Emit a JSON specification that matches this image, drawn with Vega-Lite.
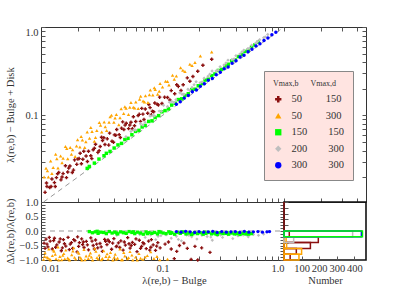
{
"$schema": "https://vega.github.io/schema/vega-lite/v6.json",
"padding": {"left": 5, "top": 25, "right": 0, "bottom": 0},
"spacing": 0,
"bounds": "flush",
"background": "white",
"config": {
  "font": "Liberation Serif",
  "view": {"stroke": "#333", "strokeWidth": 1},
  "axis": {"labelFont": "Liberation Serif", "labelFontSize": 10.5, "labelColor": "#333", "titleFont": "Liberation Serif", "titleFontSize": 10.5, "titleFontWeight": "normal", "titleColor": "#333", "tickColor": "#555", "grid": false, "domain": false, "tickSize": -4, "labelOverlap": false, "labelPadding": 7}
},
"datasets": {
  "diag": [{"x": 0.0105, "y": 0.0105}, {"x": 1, "y": 1}],
  "zline": [{"x": 0.01, "r": 0}, {"x": 1, "r": 0}],
  "main": [
{"s":"a","x":0.0108,"y":0.0135},{"s":"a","x":0.0112,"y":0.0157},{"s":"a","x":0.0118,"y":0.0153},{"s":"a","x":0.0123,"y":0.0191},{"s":"a","x":0.0129,"y":0.0174},{"s":"a","x":0.0131,"y":0.0157},{"s":"a","x":0.0134,"y":0.0198},{"s":"a","x":0.014,"y":0.0227},{"s":"a","x":0.0146,"y":0.0187},{"s":"a","x":0.0152,"y":0.022},{"s":"a","x":0.0159,"y":0.027},{"s":"a","x":0.0162,"y":0.0198},{"s":"a","x":0.0166,"y":0.0229},{"s":"a","x":0.0173,"y":0.0268},{"s":"a","x":0.0181,"y":0.0226},{"s":"a","x":0.0189,"y":0.0314},{"s":"a","x":0.0197,"y":0.028},{"s":"a","x":0.0206,"y":0.0325},{"s":"a","x":0.021,"y":0.0374},{"s":"a","x":0.0215,"y":0.0284},{"s":"a","x":0.0225,"y":0.0394},{"s":"a","x":0.0235,"y":0.0348},{"s":"a","x":0.0246,"y":0.0394},{"s":"a","x":0.0257,"y":0.035},{"s":"a","x":0.0262,"y":0.0325},{"s":"a","x":0.0269,"y":0.0409},{"s":"a","x":0.0281,"y":0.0472},{"s":"a","x":0.0294,"y":0.0382},{"s":"a","x":0.0307,"y":0.0445},{"s":"a","x":0.0315,"y":0.0567},{"s":"a","x":0.0321,"y":0.052},{"s":"a","x":0.0336,"y":0.047},{"s":"a","x":0.0351,"y":0.0544},{"s":"a","x":0.0367,"y":0.0631},{"s":"a","x":0.0384,"y":0.0511},{"s":"a","x":0.0395,"y":0.0498},{"s":"a","x":0.0402,"y":0.0603},{"s":"a","x":0.042,"y":0.0693},{"s":"a","x":0.044,"y":0.0607},{"s":"a","x":0.046,"y":0.0718},{"s":"a","x":0.047,"y":0.0846},{"s":"a","x":0.0481,"y":0.0693},{"s":"a","x":0.0503,"y":0.0815},{"s":"a","x":0.0526,"y":0.071},{"s":"a","x":0.055,"y":0.0836},{"s":"a","x":0.0565,"y":0.0706},{"s":"a","x":0.0576,"y":0.0968},{"s":"a","x":0.0602,"y":0.0855},{"s":"a","x":0.063,"y":0.0995},{"s":"a","x":0.0659,"y":0.0857},{"s":"a","x":0.0675,"y":0.1202},{"s":"a","x":0.069,"y":0.1035},{"s":"a","x":0.0722,"y":0.1184},{"s":"a","x":0.0755,"y":0.1057},{"s":"a","x":0.079,"y":0.1225},{"s":"a","x":0.081,"y":0.1021},{"s":"a","x":0.0826,"y":0.1115},{"s":"a","x":0.0864,"y":0.1382},{"s":"a","x":0.0905,"y":0.1339},{"s":"a","x":0.0947,"y":0.161},{"s":"a","x":0.099,"y":0.1366},{"s":"a","x":0.104,"y":0.161},{"s":"a","x":0.11,"y":0.1595},{"s":"a","x":0.118,"y":0.191},{"s":"a","x":0.126,"y":0.176},{"s":"a","x":0.135,"y":0.213},{"s":"a","x":0.148,"y":0.222},{"s":"a","x":0.16,"y":0.266},{"s":"a","x":0.178,"y":0.276},{"s":"a","x":0.195,"y":0.316},{"s":"a","x":0.215,"y":0.37},{"s":"a","x":0.254,"y":0.432},
{"s":"a","x":0.0111,"y":0.0172},{"s":"a","x":0.0121,"y":0.0157},{"s":"a","x":0.0137,"y":0.0219},{"s":"a","x":0.0149,"y":0.0201},{"s":"a","x":0.0169,"y":0.0254},{"s":"a","x":0.0185,"y":0.0241},{"s":"a","x":0.0201,"y":0.0322},{"s":"a","x":0.0221,"y":0.032},{"s":"a","x":0.0241,"y":0.0301},{"s":"a","x":0.0275,"y":0.0426},{"s":"a","x":0.0301,"y":0.04},{"s":"a","x":0.0329,"y":0.0559},{"s":"a","x":0.0361,"y":0.0462},{"s":"a","x":0.0412,"y":0.0597},{"s":"a","x":0.045,"y":0.0563},{"s":"a","x":0.0492,"y":0.0777},{"s":"a","x":0.0538,"y":0.078},{"s":"a","x":0.0588,"y":0.0764},{"s":"a","x":0.0643,"y":0.1029},{"s":"a","x":0.0704,"y":0.0901},{"s":"a","x":0.0772,"y":0.1328},{"s":"a","x":0.0846,"y":0.11},{"s":"a","x":0.0926,"y":0.1315},{"s":"a","x":0.115,"y":0.1495},{"s":"a","x":0.131,"y":0.2227},{"s":"a","x":0.142,"y":0.1917},{"s":"a","x":0.168,"y":0.2436},
{"s":"b","x":0.0106,"y":0.0201},{"s":"b","x":0.011,"y":0.0253},{"s":"b","x":0.0115,"y":0.0201},{"s":"b","x":0.012,"y":0.0306},{"s":"b","x":0.0126,"y":0.0258},{"s":"b","x":0.0132,"y":0.0363},{"s":"b","x":0.0138,"y":0.0255},{"s":"b","x":0.0145,"y":0.0348},{"s":"b","x":0.0152,"y":0.0327},{"s":"b","x":0.0159,"y":0.0445},{"s":"b","x":0.0166,"y":0.0324},{"s":"b","x":0.0174,"y":0.0435},{"s":"b","x":0.0182,"y":0.041},{"s":"b","x":0.0191,"y":0.0344},{"s":"b","x":0.02,"y":0.053},{"s":"b","x":0.0209,"y":0.0439},{"s":"b","x":0.0219,"y":0.0526},{"s":"b","x":0.0229,"y":0.0435},{"s":"b","x":0.024,"y":0.0648},{"s":"b","x":0.0251,"y":0.0552},{"s":"b","x":0.0263,"y":0.0658},{"s":"b","x":0.0275,"y":0.0509},{"s":"b","x":0.0288,"y":0.0677},{"s":"b","x":0.0302,"y":0.0831},{"s":"b","x":0.0316,"y":0.0648},{"s":"b","x":0.0331,"y":0.0844},{"s":"b","x":0.0347,"y":0.0677},{"s":"b","x":0.0363,"y":0.0835},{"s":"b","x":0.038,"y":0.1007},{"s":"b","x":0.0398,"y":0.0836},{"s":"b","x":0.0417,"y":0.1022},{"s":"b","x":0.0437,"y":0.0787},{"s":"b","x":0.0457,"y":0.1188},{"s":"b","x":0.0479,"y":0.1054},{"s":"b","x":0.0501,"y":0.1202},{"s":"b","x":0.0525,"y":0.1024},{"s":"b","x":0.055,"y":0.1403},{"s":"b","x":0.0575,"y":0.1236},{"s":"b","x":0.0603,"y":0.1417},{"s":"b","x":0.0631,"y":0.1199},{"s":"b","x":0.0661,"y":0.1653},{"s":"b","x":0.0692,"y":0.1453},{"s":"b","x":0.0724,"y":0.1665},{"s":"b","x":0.0759,"y":0.1404},{"s":"b","x":0.0794,"y":0.1945},{"s":"b","x":0.0832,"y":0.1706},{"s":"b","x":0.0871,"y":0.196},{"s":"b","x":0.0912,"y":0.1733},{"s":"b","x":0.0955,"y":0.2292},{"s":"b","x":0.1,"y":0.21},{"s":"b","x":0.106,"y":0.2438},{"s":"b","x":0.113,"y":0.2204},{"s":"b","x":0.121,"y":0.2844},{"s":"b","x":0.13,"y":0.2795},{"s":"b","x":0.141,"y":0.3455},{"s":"b","x":0.153,"y":0.3137},{"s":"b","x":0.168,"y":0.378},{"s":"b","x":0.185,"y":0.398},{"s":"b","x":0.205,"y":0.4715},{"s":"b","x":0.254,"y":0.5207},
{"s":"b","x":0.0113,"y":0.0237},{"s":"b","x":0.0123,"y":0.0221},{"s":"b","x":0.0135,"y":0.0324},{"s":"b","x":0.0149,"y":0.0291},{"s":"b","x":0.0163,"y":0.0424},{"s":"b","x":0.0178,"y":0.0365},{"s":"b","x":0.0196,"y":0.0451},{"s":"b","x":0.0214,"y":0.0578},{"s":"b","x":0.0234,"y":0.0503},{"s":"b","x":0.0257,"y":0.0732},{"s":"b","x":0.0281,"y":0.0562},{"s":"b","x":0.0309,"y":0.0773},{"s":"b","x":0.0338,"y":0.0744},{"s":"b","x":0.0371,"y":0.0965},{"s":"b","x":0.0407,"y":0.0936},{"s":"b","x":0.0447,"y":0.0939},{"s":"b","x":0.049,"y":0.125},{"s":"b","x":0.0538,"y":0.1237},{"s":"b","x":0.059,"y":0.121},{"s":"b","x":0.0648,"y":0.1523},{"s":"b","x":0.0711,"y":0.1422},{"s":"b","x":0.078,"y":0.1716},{"s":"b","x":0.0856,"y":0.2054},{"s":"b","x":0.094,"y":0.188},{"s":"b","x":0.11,"y":0.242},{"s":"b","x":0.125,"y":0.2563},{"s":"b","x":0.147,"y":0.3234},{"s":"b","x":0.175,"y":0.3675},
{"s":"c","x":0.024,"y":0.0252},{"s":"c","x":0.025,"y":0.0265},{"s":"c","x":0.0275,"y":0.0289},{"s":"c","x":0.03,"y":0.0321},{"s":"c","x":0.033,"y":0.035},{"s":"c","x":0.0345,"y":0.0373},{"s":"c","x":0.037,"y":0.0392},{"s":"c","x":0.04,"y":0.0428},{"s":"c","x":0.043,"y":0.0464},{"s":"c","x":0.046,"y":0.0483},{"s":"c","x":0.049,"y":0.0534},{"s":"c","x":0.052,"y":0.0551},{"s":"c","x":0.056,"y":0.0605},{"s":"c","x":0.06,"y":0.066},{"s":"c","x":0.064,"y":0.0678},{"s":"c","x":0.068,"y":0.0741},{"s":"c","x":0.072,"y":0.077},{"s":"c","x":0.077,"y":0.0855},{"s":"c","x":0.082,"y":0.0869},{"s":"c","x":0.087,"y":0.0948},{"s":"c","x":0.093,"y":0.0995},{"s":"c","x":0.099,"y":0.1099},{"s":"c","x":0.105,"y":0.1134},{"s":"c","x":0.112,"y":0.1187},{"s":"c","x":0.119,"y":0.1309},{"s":"c","x":0.127,"y":0.1372},{"s":"c","x":0.135,"y":0.1512},{"s":"c","x":0.144,"y":0.1541},{"s":"c","x":0.153,"y":0.1683},{"s":"c","x":0.163,"y":0.176},{"s":"c","x":0.174,"y":0.1949},{"s":"c","x":0.185,"y":0.198},{"s":"c","x":0.197,"y":0.2167},{"s":"c","x":0.21,"y":0.2289},{"s":"c","x":0.224,"y":0.2509},{"s":"c","x":0.238,"y":0.257},{"s":"c","x":0.254,"y":0.2819},{"s":"c","x":0.27,"y":0.2943},{"s":"c","x":0.288,"y":0.3226},{"s":"c","x":0.307,"y":0.3316},{"s":"c","x":0.327,"y":0.363},{"s":"c","x":0.348,"y":0.3793},{"s":"c","x":0.371,"y":0.4155},{"s":"c","x":0.395,"y":0.4266},{"s":"c","x":0.421,"y":0.4631},{"s":"c","x":0.448,"y":0.4883},{"s":"c","x":0.477,"y":0.5295},{"s":"c","x":0.508,"y":0.5486},{"s":"c","x":0.541,"y":0.5951},{"s":"c","x":0.576,"y":0.6278},{"s":"c","x":0.615,"y":0.6765},
{"s":"d","x":0.05,"y":0.0575},{"s":"d","x":0.055,"y":0.066},{"s":"d","x":0.058,"y":0.0684},{"s":"d","x":0.06,"y":0.0684},{"s":"d","x":0.066,"y":0.0805},{"s":"d","x":0.069,"y":0.078},{"s":"d","x":0.072,"y":0.0835},{"s":"d","x":0.079,"y":0.0988},{"s":"d","x":0.083,"y":0.1004},{"s":"d","x":0.086,"y":0.0989},{"s":"d","x":0.094,"y":0.1119},{"s":"d","x":0.098,"y":0.1117},{"s":"d","x":0.102,"y":0.1306},{"s":"d","x":0.11,"y":0.1265},{"s":"d","x":0.114,"y":0.1414},{"s":"d","x":0.119,"y":0.144},{"s":"d","x":0.124,"y":0.1401},{"s":"d","x":0.129,"y":0.1509},{"s":"d","x":0.139,"y":0.1807},{"s":"d","x":0.145,"y":0.174},{"s":"d","x":0.15,"y":0.174},{"s":"d","x":0.162,"y":0.1976},{"s":"d","x":0.168,"y":0.1915},{"s":"d","x":0.175,"y":0.2065},{"s":"d","x":0.182,"y":0.222},{"s":"d","x":0.189,"y":0.24},{"s":"d","x":0.204,"y":0.2346},{"s":"d","x":0.212,"y":0.2396},{"s":"d","x":0.22,"y":0.264},{"s":"d","x":0.237,"y":0.2773},{"s":"d","x":0.245,"y":0.2916},{"s":"d","x":0.256,"y":0.3174},{"s":"d","x":0.276,"y":0.3174},{"s":"d","x":0.287,"y":0.3243},{"s":"d","x":0.298,"y":0.3546},{"s":"d","x":0.321,"y":0.3724},{"s":"d","x":0.333,"y":0.3929},{"s":"d","x":0.346,"y":0.4221},{"s":"d","x":0.373,"y":0.429},{"s":"d","x":0.388,"y":0.4346},{"s":"d","x":0.402,"y":0.4744},{"s":"d","x":0.433,"y":0.4936},{"s":"d","x":0.45,"y":0.522},{"s":"d","x":0.467,"y":0.5464},{"s":"d","x":0.503,"y":0.5684},{"s":"d","x":0.52,"y":0.5772},{"s":"d","x":0.542,"y":0.6233},{"s":"d","x":0.584,"y":0.6541},{"s":"d","x":0.605,"y":0.6837},{"s":"d","x":0.63,"y":0.7182},{"s":"d","x":0.68,"y":0.7548},{"s":"d","x":0.7,"y":0.77},{"s":"d","x":0.735,"y":0.8232},
{"s":"e","x":0.13,"y":0.1339},{"s":"e","x":0.14,"y":0.1428},{"s":"e","x":0.151,"y":0.157},{"s":"e","x":0.163,"y":0.1679},{"s":"e","x":0.176,"y":0.1848},{"s":"e","x":0.19,"y":0.1938},{"s":"e","x":0.205,"y":0.2132},{"s":"e","x":0.221,"y":0.2276},{"s":"e","x":0.238,"y":0.2499},{"s":"e","x":0.257,"y":0.2621},{"s":"e","x":0.277,"y":0.2881},{"s":"e","x":0.299,"y":0.308},{"s":"e","x":0.322,"y":0.3381},{"s":"e","x":0.347,"y":0.3539},{"s":"e","x":0.374,"y":0.389},{"s":"e","x":0.403,"y":0.4151},{"s":"e","x":0.435,"y":0.4568},{"s":"e","x":0.469,"y":0.4784},{"s":"e","x":0.506,"y":0.5262},{"s":"e","x":0.545,"y":0.5614},{"s":"e","x":0.588,"y":0.6115},{"s":"e","x":0.634,"y":0.6467},{"s":"e","x":0.684,"y":0.7045},{"s":"e","x":0.737,"y":0.7517},{"s":"e","x":0.795,"y":0.8189},{"s":"e","x":0.857,"y":0.8741}
  ],
  "res": [
{"s":"a","x":0.0106,"r":-0.42},{"s":"a","x":0.011,"r":-0.28},{"s":"a","x":0.0112,"r":-0.45},{"s":"a","x":0.0114,"r":-0.55},{"s":"a","x":0.0119,"r":-0.35},{"s":"a","x":0.0124,"r":-0.62},{"s":"a","x":0.0127,"r":-0.33},{"s":"a","x":0.0129,"r":-0.25},{"s":"a","x":0.0135,"r":-0.48},{"s":"a","x":0.0141,"r":-0.38},{"s":"a","x":0.0147,"r":-0.68},{"s":"a","x":0.015,"r":-0.58},{"s":"a","x":0.0153,"r":-0.3},{"s":"a","x":0.016,"r":-0.52},{"s":"a","x":0.0167,"r":-0.22},{"s":"a","x":0.0174,"r":-0.45},{"s":"a","x":0.0178,"r":-0.4},{"s":"a","x":0.0182,"r":-0.6},{"s":"a","x":0.019,"r":-0.33},{"s":"a","x":0.0198,"r":-0.72},{"s":"a","x":0.02,"r":-0.2},{"s":"a","x":0.0207,"r":-0.4},{"s":"a","x":0.0216,"r":-0.27},{"s":"a","x":0.022,"r":-0.47},{"s":"a","x":0.0226,"r":-0.57},{"s":"a","x":0.0236,"r":-0.36},{"s":"a","x":0.0246,"r":-0.65},{"s":"a","x":0.0257,"r":-0.24},{"s":"a","x":0.0269,"r":-0.5},{"s":"a","x":0.0275,"r":-0.62},{"s":"a","x":0.0281,"r":-0.31},{"s":"a","x":0.0293,"r":-0.58},{"s":"a","x":0.0306,"r":-0.43},{"s":"a","x":0.032,"r":-0.7},{"s":"a","x":0.0334,"r":-0.29},{"s":"a","x":0.034,"r":-0.36},{"s":"a","x":0.0349,"r":-0.47},{"s":"a","x":0.0365,"r":-0.37},{"s":"a","x":0.0381,"r":-0.63},{"s":"a","x":0.0398,"r":-0.26},{"s":"a","x":0.0416,"r":-0.54},{"s":"a","x":0.042,"r":-0.52},{"s":"a","x":0.0434,"r":-0.41},{"s":"a","x":0.0454,"r":-0.34},{"s":"a","x":0.0474,"r":-0.66},{"s":"a","x":0.0495,"r":-0.49},{"s":"a","x":0.0517,"r":-0.23},{"s":"a","x":0.053,"r":-0.44},{"s":"a","x":0.0541,"r":-0.59},{"s":"a","x":0.0565,"r":-0.39},{"s":"a","x":0.059,"r":-0.46},{"s":"a","x":0.0617,"r":-0.71},{"s":"a","x":0.0644,"r":-0.32},{"s":"a","x":0.066,"r":-0.6},{"s":"a","x":0.0673,"r":-0.53},{"s":"a","x":0.0703,"r":-0.44},{"s":"a","x":0.0735,"r":-0.61},{"s":"a","x":0.0768,"r":-0.35},{"s":"a","x":0.0802,"r":-0.56},{"s":"a","x":0.081,"r":-0.3},{"s":"a","x":0.0838,"r":-0.48},{"s":"a","x":0.0876,"r":-0.67},{"s":"a","x":0.0915,"r":-0.4},{"s":"a","x":0.0956,"r":-0.58},{"s":"a","x":0.105,"r":-0.45},{"s":"a","x":0.118,"r":-0.62},{"s":"a","x":0.125,"r":-0.95},{"s":"a","x":0.138,"r":-0.5},{"s":"a","x":0.16,"r":-0.6},{"s":"a","x":0.172,"r":-0.98},{"s":"a","x":0.185,"r":-0.53},{"s":"a","x":0.195,"r":-1.0},{"s":"a","x":0.246,"r":-0.74},
{"s":"a","x":0.0108,"r":-0.6},{"s":"a","x":0.0117,"r":-0.22},{"s":"a","x":0.0132,"r":-0.56},{"s":"a","x":0.0144,"r":-0.27},{"s":"a","x":0.0156,"r":-0.44},{"s":"a","x":0.0171,"r":-0.64},{"s":"a","x":0.0186,"r":-0.3},{"s":"a","x":0.0204,"r":-0.53},{"s":"a","x":0.0223,"r":-0.38},{"s":"a","x":0.0241,"r":-0.48},{"s":"a","x":0.0263,"r":-0.35},{"s":"a","x":0.0287,"r":-0.45},{"s":"a","x":0.0313,"r":-0.55},{"s":"a","x":0.0356,"r":-0.31},{"s":"a","x":0.0389,"r":-0.42},{"s":"a","x":0.0445,"r":-0.57},{"s":"a","x":0.0485,"r":-0.38},{"s":"a","x":0.0553,"r":-0.5},{"s":"a","x":0.0605,"r":-0.27},{"s":"a","x":0.069,"r":-0.4},{"s":"a","x":0.0785,"r":-0.66},{"s":"a","x":0.0895,"r":-0.52},{"s":"a","x":0.112,"r":-0.38},{"s":"a","x":0.131,"r":-0.7},{"s":"a","x":0.15,"r":-0.42},{"s":"a","x":0.21,"r":-0.58},
{"s":"b","x":0.0105,"r":-0.98},{"s":"b","x":0.0108,"r":-0.75},{"s":"b","x":0.0112,"r":-0.9},{"s":"b","x":0.0114,"r":-0.93},{"s":"b","x":0.0116,"r":-0.62},{"s":"b","x":0.012,"r":-1.0},{"s":"b","x":0.0124,"r":-0.85},{"s":"b","x":0.0128,"r":-0.7},{"s":"b","x":0.0131,"r":-0.8},{"s":"b","x":0.0133,"r":-0.96},{"s":"b","x":0.0138,"r":-0.55},{"s":"b","x":0.0143,"r":-0.88},{"s":"b","x":0.0148,"r":-0.99},{"s":"b","x":0.0154,"r":-0.78},{"s":"b","x":0.0157,"r":-0.96},{"s":"b","x":0.016,"r":-0.66},{"s":"b","x":0.0166,"r":-0.93},{"s":"b","x":0.0172,"r":-1.0},{"s":"b","x":0.0179,"r":-0.82},{"s":"b","x":0.0183,"r":-0.69},{"s":"b","x":0.0186,"r":-0.58},{"s":"b","x":0.0193,"r":-0.97},{"s":"b","x":0.0201,"r":-0.72},{"s":"b","x":0.0209,"r":-0.9},{"s":"b","x":0.0213,"r":-0.94},{"s":"b","x":0.0217,"r":-1.0},{"s":"b","x":0.0226,"r":-0.64},{"s":"b","x":0.0235,"r":-0.86},{"s":"b","x":0.0245,"r":-0.95},{"s":"b","x":0.025,"r":-0.84},{"s":"b","x":0.0255,"r":-0.76},{"s":"b","x":0.0266,"r":-1.0},{"s":"b","x":0.0277,"r":-0.6},{"s":"b","x":0.0289,"r":-0.92},{"s":"b","x":0.0295,"r":-0.97},{"s":"b","x":0.0301,"r":-0.83},{"s":"b","x":0.0314,"r":-0.99},{"s":"b","x":0.0328,"r":-0.68},{"s":"b","x":0.0342,"r":-0.88},{"s":"b","x":0.035,"r":-0.79},{"s":"b","x":0.0357,"r":-0.97},{"s":"b","x":0.0373,"r":-0.74},{"s":"b","x":0.039,"r":-1.0},{"s":"b","x":0.04,"r":-0.91},{"s":"b","x":0.0408,"r":-0.8},{"s":"b","x":0.0427,"r":-0.94},{"s":"b","x":0.0447,"r":-0.62},{"s":"b","x":0.046,"r":-0.99},{"s":"b","x":0.0468,"r":-0.99},{"s":"b","x":0.049,"r":-0.86},{"s":"b","x":0.0515,"r":-0.96},{"s":"b","x":0.054,"r":-0.71},{"s":"b","x":0.056,"r":-0.83},{"s":"b","x":0.057,"r":-1.0},{"s":"b","x":0.06,"r":-0.9},{"s":"b","x":0.064,"r":-0.78},{"s":"b","x":0.066,"r":-0.94},{"s":"b","x":0.069,"r":-0.98},{"s":"b","x":0.075,"r":-0.85},{"s":"b","x":0.08,"r":-0.72},{"s":"b","x":0.085,"r":-0.95},{"s":"b","x":0.095,"r":-0.99},{"s":"b","x":0.11,"r":-0.97},
{"s":"b","x":0.0107,"r":-0.87},{"s":"b","x":0.0118,"r":-0.97},{"s":"b","x":0.0126,"r":-0.66},{"s":"b","x":0.014,"r":-1.0},{"s":"b","x":0.0151,"r":-0.84},{"s":"b","x":0.0169,"r":-0.97},{"s":"b","x":0.0189,"r":-0.91},{"s":"b","x":0.0205,"r":-0.77},{"s":"b","x":0.023,"r":-0.99},{"s":"b","x":0.026,"r":-0.9},{"s":"b","x":0.0283,"r":-0.7},{"s":"b","x":0.032,"r":-0.95},{"s":"b","x":0.0365,"r":-0.88},{"s":"b","x":0.0415,"r":-0.98},{"s":"b","x":0.048,"r":-0.74},{"s":"b","x":0.0525,"r":-0.92},{"s":"b","x":0.062,"r":-1.0},{"s":"b","x":0.072,"r":-0.9},{"s":"b","x":0.09,"r":-0.88},
{"s":"d","x":0.042,"r":-0.15},{"s":"d","x":0.065,"r":-0.12},{"s":"d","x":0.072,"r":-0.22},{"s":"d","x":0.08,"r":-0.14},{"s":"d","x":0.088,"r":-0.3},{"s":"d","x":0.092,"r":-0.18},{"s":"d","x":0.097,"r":-0.16},{"s":"d","x":0.107,"r":-0.13},{"s":"d","x":0.118,"r":-0.25},{"s":"d","x":0.125,"r":-0.12},{"s":"d","x":0.13,"r":-0.18},{"s":"d","x":0.135,"r":-0.29},{"s":"d","x":0.143,"r":-0.34},{"s":"d","x":0.158,"r":-0.14},{"s":"d","x":0.165,"r":-0.15},{"s":"d","x":0.174,"r":-0.2},{"s":"d","x":0.192,"r":-0.28},{"s":"d","x":0.211,"r":-0.15},{"s":"d","x":0.22,"r":-0.13},{"s":"d","x":0.233,"r":-0.19},{"s":"d","x":0.25,"r":-0.21},{"s":"d","x":0.257,"r":-0.32},{"s":"d","x":0.283,"r":-0.16},{"s":"d","x":0.3,"r":-0.14},{"s":"d","x":0.312,"r":-0.22},{"s":"d","x":0.344,"r":-0.13},{"s":"d","x":0.379,"r":-0.26},{"s":"d","x":0.4,"r":-0.12},{"s":"d","x":0.418,"r":-0.17},{"s":"d","x":0.461,"r":-0.14},{"s":"d","x":0.49,"r":-0.13},{"s":"d","x":0.508,"r":-0.2},{"s":"d","x":0.56,"r":-0.12},{"s":"d","x":0.617,"r":-0.15},{"s":"d","x":0.68,"r":-0.11},
{"s":"c","x":0.025,"r":-0.02},{"s":"c","x":0.0265,"r":-0.06},{"s":"c","x":0.028,"r":-0.03},{"s":"c","x":0.029,"r":-0.01},{"s":"c","x":0.0295,"r":-0.08},{"s":"c","x":0.031,"r":-0.04},{"s":"c","x":0.0328,"r":-0.05},{"s":"c","x":0.0345,"r":-0.09},{"s":"c","x":0.0365,"r":-0.02},{"s":"c","x":0.0385,"r":-0.07},{"s":"c","x":0.0405,"r":-0.04},{"s":"c","x":0.042,"r":-0.07},{"s":"c","x":0.0428,"r":-0.1},{"s":"c","x":0.0452,"r":-0.03},{"s":"c","x":0.0477,"r":-0.06},{"s":"c","x":0.0503,"r":-0.08},{"s":"c","x":0.0531,"r":-0.02},{"s":"c","x":0.056,"r":-0.05},{"s":"c","x":0.0575,"r":-0.03},{"s":"c","x":0.0591,"r":-0.09},{"s":"c","x":0.0624,"r":-0.04},{"s":"c","x":0.0658,"r":-0.07},{"s":"c","x":0.0695,"r":-0.11},{"s":"c","x":0.0733,"r":-0.03},{"s":"c","x":0.075,"r":-0.09},{"s":"c","x":0.0774,"r":-0.06},{"s":"c","x":0.0817,"r":-0.08},{"s":"c","x":0.0862,"r":-0.05},{"s":"c","x":0.091,"r":-0.1},{"s":"c","x":0.0935,"r":-0.02},{"s":"c","x":0.096,"r":-0.04},{"s":"c","x":0.1013,"r":-0.07},{"s":"c","x":0.1069,"r":-0.09},{"s":"c","x":0.1128,"r":-0.03},{"s":"c","x":0.116,"r":-0.08},{"s":"c","x":0.1191,"r":-0.06},{"s":"c","x":0.1257,"r":-0.11},{"s":"c","x":0.1327,"r":-0.05},{"s":"c","x":0.14,"r":-0.08},{"s":"c","x":0.145,"r":-0.03},{"s":"c","x":0.1478,"r":-0.04},{"s":"c","x":0.156,"r":-0.1},{"s":"c","x":0.1646,"r":-0.07},{"s":"c","x":0.1737,"r":-0.12},{"s":"c","x":0.178,"r":-0.09},{"s":"c","x":0.1834,"r":-0.05},{"s":"c","x":0.1935,"r":-0.09},{"s":"c","x":0.2043,"r":-0.06},{"s":"c","x":0.2156,"r":-0.11},{"s":"c","x":0.222,"r":-0.04},{"s":"c","x":0.2276,"r":-0.08},{"s":"c","x":0.2402,"r":-0.05},{"s":"c","x":0.2535,"r":-0.1},{"s":"c","x":0.2676,"r":-0.07},{"s":"c","x":0.275,"r":-0.1},{"s":"c","x":0.2824,"r":-0.12},{"s":"c","x":0.2981,"r":-0.06},{"s":"c","x":0.3146,"r":-0.09},{"s":"c","x":0.3321,"r":-0.08},{"s":"c","x":0.34,"r":-0.05},{"s":"c","x":0.3505,"r":-0.11},{"s":"c","x":0.37,"r":-0.07},{"s":"c","x":0.3905,"r":-0.1},{"s":"c","x":0.4122,"r":-0.09},{"s":"c","x":0.42,"r":-0.07},{"s":"c","x":0.435,"r":-0.12},{"s":"c","x":0.4592,"r":-0.08},{"s":"c","x":0.4847,"r":-0.1},{"s":"c","x":0.5,"r":-0.06},{"s":"c","x":0.5116,"r":-0.11},{"s":"c","x":0.54,"r":-0.09},
{"s":"e","x":0.13,"r":-0.02},{"s":"e","x":0.142,"r":-0.04},{"s":"e","x":0.155,"r":-0.01},{"s":"e","x":0.169,"r":-0.03},{"s":"e","x":0.184,"r":-0.05},{"s":"e","x":0.2,"r":-0.02},{"s":"e","x":0.218,"r":-0.04},{"s":"e","x":0.238,"r":-0.03},{"s":"e","x":0.259,"r":-0.01},{"s":"e","x":0.282,"r":-0.05},{"s":"e","x":0.307,"r":-0.02},{"s":"e","x":0.335,"r":-0.04},{"s":"e","x":0.365,"r":-0.03},{"s":"e","x":0.398,"r":-0.02},{"s":"e","x":0.433,"r":-0.05},{"s":"e","x":0.472,"r":-0.01},{"s":"e","x":0.514,"r":-0.04},{"s":"e","x":0.56,"r":-0.03},{"s":"e","x":0.61,"r":-0.02},{"s":"e","x":0.665,"r":-0.04},{"s":"e","x":0.724,"r":-0.03},{"s":"e","x":0.76,"r":-0.02}
  ],
  "hist": [
{"s":"a","lo":0.8,"hi":1.0,"n":0},{"s":"a","lo":0.6,"hi":0.8,"n":0},{"s":"a","lo":0.4,"hi":0.6,"n":0},{"s":"a","lo":0.2,"hi":0.4,"n":0},{"s":"a","lo":0.0,"hi":0.2,"n":0},{"s":"a","lo":-0.2,"hi":0.0,"n":30},{"s":"a","lo":-0.4,"hi":-0.2,"n":195},{"s":"a","lo":-0.6,"hi":-0.4,"n":150},{"s":"a","lo":-0.8,"hi":-0.6,"n":70},{"s":"a","lo":-1.0,"hi":-0.8,"n":35},
{"s":"b","lo":-0.4,"hi":-0.2,"n":12},{"s":"b","lo":-0.6,"hi":-0.4,"n":15},{"s":"b","lo":-0.8,"hi":-0.6,"n":100},{"s":"b","lo":-1.0,"hi":-0.8,"n":85},
{"s":"d","lo":-0.2,"hi":0.0,"n":390},{"s":"d","lo":-0.4,"hi":-0.2,"n":55},
{"s":"e","lo":-0.2,"hi":0.0,"n":440},
{"s":"c","lo":-0.2,"hi":0.0,"n":446}
  ]
},
"resolve": {"scale": {"x": "independent", "y": "independent"}},
"vconcat": [
  {
    "width": 325, "height": 175,
    "layer": [
      {
        "data": {"name": "diag"},
        "mark": {"type": "line", "strokeDash": [5, 4], "color": "#999", "strokeWidth": 1, "clip": true},
        "encoding": {
          "x": {"field": "x", "type": "quantitative", "scale": {"type": "log", "domain": [0.01, 4.73], "nice": false},
                "axis": {"orient": "top", "labels": false, "title": null, "values": [0.02,0.03,0.04,0.05,0.06,0.07,0.08,0.09,0.1,0.2,0.3,0.4,0.5,0.6,0.7,0.8,0.9,1,2,3,4]}},
          "y": {"field": "y", "type": "quantitative", "scale": {"type": "log", "domain": [0.0105, 1], "nice": false},
                "axis": {"orient": "right", "labels": false, "title": null, "values": [0.02,0.03,0.04,0.05,0.06,0.07,0.08,0.09,0.1,0.2,0.3,0.4,0.5,0.6,0.7,0.8,0.9,1]}}
        }
      },
      {
        "data": {"name": "main"},
        "mark": {"type": "point", "filled": true, "size": 12, "opacity": 1, "strokeWidth": 0},
        "encoding": {
          "x": {"field": "x", "type": "quantitative", "scale": {"type": "log", "domain": [0.01, 4.73], "nice": false},
                "axis": {"orient": "bottom", "labels": false, "title": null, "values": [0.02,0.03,0.04,0.05,0.06,0.07,0.08,0.09,0.1,0.2,0.3,0.4,0.5,0.6,0.7,0.8,0.9,1,2,3,4]}},
          "y": {"field": "y", "type": "quantitative", "scale": {"type": "log", "domain": [0.0105, 1], "nice": false},
                "axis": {"orient": "left", "values": [0.02,0.03,0.04,0.05,0.06,0.07,0.08,0.09,0.1,0.2,0.3,0.4,0.5,0.6,0.7,0.8,0.9,1],
                         "labelExpr": "datum.value == 1 ? '1.0' : (abs(datum.value - 0.1) < 0.0001 ? '0.1' : '')",
                         "labelFlush": true, "title": "λ(re,b) − Bulge + Disk", "titlePadding": 9}},
          "color": {"field": "s", "type": "nominal",
                    "scale": {"domain": ["a","b","c","d","e"], "range": ["#8b1010","#ffa500","#00ff00","#bebebe","#0000ff"]},
                    "legend": {"orient": "none", "legendX": 223, "legendY": 44, "title": "\u2007\u2007\u2007\u2007Vmax,b\u2007\u2007\u2007Vmax,d",
                               "labelExpr": "{'a':'\u200850\u2008\u2007\u2007\u2007\u2007150','b':'\u200850\u2008\u2007\u2007\u2007\u2007300','c':'150\u2007\u2007\u2007\u2007150','d':'200\u2007\u2007\u2007\u2007300','e':'300\u2007\u2007\u2007\u2007300'}[datum.value]",
                               "fillColor": "#ffe4e1", "strokeColor": "#888", "padding": 9, "symbolSize": 40, "symbolStrokeWidth": 0,
                               "labelFont": "Liberation Serif", "labelFontSize": 10.5, "labelColor": "#333", "labelOffset": 8,
                               "rowPadding": 5.5, "titleFont": "Liberation Serif", "titleFontSize": 8, "titleFontWeight": "normal", "titleColor": "#333", "titlePadding": 6}},
          "shape": {"field": "s", "type": "nominal",
                    "scale": {"domain": ["a","b","c","d","e"], "range": ["cross","triangle-up","square","diamond","circle"]},
                    "legend": {"orient": "none", "legendX": 223, "legendY": 44, "title": "\u2007\u2007\u2007\u2007Vmax,b\u2007\u2007\u2007Vmax,d",
                               "labelExpr": "{'a':'\u200850\u2008\u2007\u2007\u2007\u2007150','b':'\u200850\u2008\u2007\u2007\u2007\u2007300','c':'150\u2007\u2007\u2007\u2007150','d':'200\u2007\u2007\u2007\u2007300','e':'300\u2007\u2007\u2007\u2007300'}[datum.value]",
                               "fillColor": "#ffe4e1", "strokeColor": "#888", "padding": 9, "symbolSize": 40, "symbolStrokeWidth": 0,
                               "labelFont": "Liberation Serif", "labelFontSize": 10.5, "labelColor": "#333", "labelOffset": 8,
                               "rowPadding": 5.5, "titleFont": "Liberation Serif", "titleFontSize": 8, "titleFontWeight": "normal", "titleColor": "#333", "titlePadding": 6}}
        }
      }
    ],
    "resolve": {"axis": {"x": "independent", "y": "independent"}}
  },
  {
    "spacing": 0,
    "bounds": "flush",
    "resolve": {"scale": {"x": "independent", "y": "independent"}},
    "hconcat": [
      {
        "width": 243, "height": 58,
        "layer": [
          {
            "data": {"name": "zline"},
            "mark": {"type": "line", "strokeDash": [5, 4], "color": "#999", "strokeWidth": 1},
            "encoding": {
              "x": {"field": "x", "type": "quantitative", "scale": {"type": "log", "domain": [0.01, 1], "nice": false}, "axis": null},
              "y": {"field": "r", "type": "quantitative", "scale": {"domain": [-1, 1], "nice": false, "zero": false},
                    "axis": {"orient": "right", "labels": false, "title": null, "values": [-1,-0.9,-0.8,-0.7,-0.6,-0.5,-0.4,-0.3,-0.2,-0.1,0,0.1,0.2,0.3,0.4,0.5,0.6,0.7,0.8,0.9,1]}}
            }
          },
          {
            "data": {"name": "res"},
            "mark": {"type": "point", "filled": true, "size": 11, "opacity": 1, "strokeWidth": 0},
            "encoding": {
              "x": {"field": "x", "type": "quantitative", "scale": {"type": "log", "domain": [0.01, 1], "nice": false},
                    "axis": {"orient": "bottom", "values": [0.01,0.02,0.03,0.04,0.05,0.06,0.07,0.08,0.09,0.1,0.2,0.3,0.4,0.5,0.6,0.7,0.8,0.9,1],
                             "labelExpr": "datum.value == 1 ? '1.0' : (abs(datum.value - 0.1) < 0.0001 ? '0.1' : (abs(datum.value - 0.01) < 0.00001 ? '0.01' : ''))",
                             "title": "λ(re,b) − Bulge", "titlePadding": 2, "titleX": 133}},
              "y": {"field": "r", "type": "quantitative", "scale": {"domain": [-1, 1], "nice": false, "zero": false},
                    "axis": {"orient": "left", "values": [-1,-0.9,-0.8,-0.7,-0.6,-0.5,-0.4,-0.3,-0.2,-0.1,0,0.1,0.2,0.3,0.4,0.5,0.6,0.7,0.8,0.9,1],
                             "labelExpr": "abs(datum.value*2 - round(datum.value*2)) < 0.001 ? format(datum.value, '.1f') : ''",
                             "title": "Δλ(re,b)/λ(re,b)", "titlePadding": 3}},
              "color": {"field": "s", "type": "nominal", "scale": {"domain": ["a","b","c","d","e"], "range": ["#8b1010","#ffa500","#00ff00","#bebebe","#0000ff"]}, "legend": null},
              "shape": {"field": "s", "type": "nominal", "scale": {"domain": ["a","b","c","d","e"], "range": ["cross","triangle-up","square","diamond","circle"]}, "legend": null}
            }
          }
        ],
        "resolve": {"axis": {"x": "independent", "y": "independent"}}
      },
      {
        "width": 82, "height": 58,
        "view": {"stroke": "#111", "strokeWidth": 1.6},
        "data": {"name": "hist"},
        "mark": {"type": "rect", "filled": false, "strokeWidth": 1.5},
        "encoding": {
          "x": {"field": "n", "type": "quantitative", "scale": {"domain": [0, 466], "nice": false},
                "axis": {"values": [100, 200, 300, 400], "title": "Number", "titlePadding": 2}},
          "x2": {"datum": 0},
          "y": {"field": "lo", "type": "quantitative", "scale": {"domain": [-1, 1], "nice": false, "zero": false},
                "axis": {"labels": false, "title": null, "values": [-1,-0.8,-0.6,-0.4,-0.2,0,0.2,0.4,0.6,0.8,1]}},
          "y2": {"field": "hi"},
          "color": {"field": "s", "type": "nominal", "scale": {"domain": ["a","b","c","d","e"], "range": ["#8b1010","#ffa500","#00cc44","#bebebe","#0000ff"]}, "legend": null}
        }
      }
    ]
  }
]
}
